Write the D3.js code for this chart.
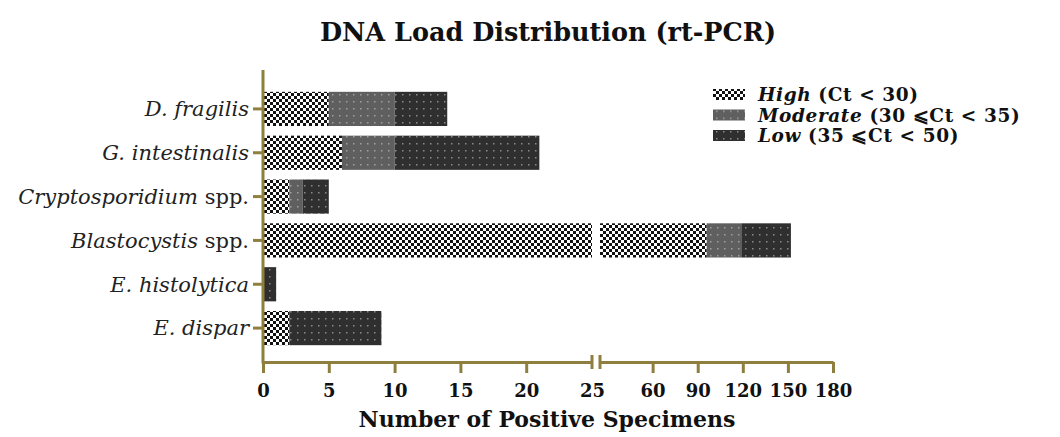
<body style="margin:0;background:#fff"></body>
<script src="https://d3js.org/d3.v7.min.js"></script>
<script>
    var width = 1060, height = 437;

    var categories = ["D. fragilis", "G. intestinalis", "Cryptosporidium spp.", "Blastocystis spp.", "E. histolytica", "E. dispar"];
    var high = [5, 6, 2, 96, 0, 2];
    var moderate = [5, 4, 1, 23, 0, 0];
    var low = [4, 11, 2, 33, 1, 7];
    var levels = ["High", "Moderate", "Low"];
    var levelNotes = ["(Ct < 30)", "(30 \u2A7DCt < 35)", "(35 \u2A7DCt < 50)"];
    var leftTicks = [0, 5, 10, 15, 20, 25];
    var rightTicks = [60, 90, 120, 150, 180];

    var axisColor = "#8f7f3e";
    var font = "'DejaVu Serif', serif";

    var svg = d3.select('body').append('svg').attr('width', width).attr('height', height)
        .style('font-family', font);

    // fill patterns
    var defs = svg.append('defs');
    var p1 = defs.append('pattern').attr('id', 'pHigh').attr('width', 6).attr('height', 6)
        .attr('patternUnits', 'userSpaceOnUse');
    p1.append('rect').attr('width', 6).attr('height', 6).attr('fill', '#fff');
    p1.append('rect').attr('width', 3).attr('height', 3).attr('fill', '#111');
    p1.append('rect').attr('x', 3).attr('y', 3).attr('width', 3).attr('height', 3).attr('fill', '#111');

    function dotted(id, bg, dot) {
        var p = defs.append('pattern').attr('id', id).attr('width', 7).attr('height', 7)
            .attr('patternUnits', 'userSpaceOnUse');
        p.append('rect').attr('width', 7).attr('height', 7).attr('fill', bg);
        p.append('rect').attr('x', 3).attr('y', 3).attr('width', 1.5).attr('height', 1.5).attr('fill', dot);
    }
    dotted('pModerate', '#5f5f5f', '#a0a0a0');
    dotted('pLow', '#2f2f2f', '#8a8a8a');
    var fills = ["url(#pHigh)", "url(#pModerate)", "url(#pLow)"];

    // broken x axis: two linear pieces
    var xL = d3.scaleLinear().domain([0, 25]).range([263, 592]);
    var xR = d3.scaleLinear().domain([25, 180]).range([600, 833]);
    var y = d3.scaleBand().domain(categories).range([87, 350]).paddingInner(0.22).paddingOuter(0.11);

    var series = [high, moderate, low];
    var segs = [];
    categories.forEach(function (c, i) {
        var start = 0;
        series.forEach(function (s, k) {
            var v = s[i];
            if (v > 0) {
                var a = start, b = start + v;
                if (a < 25) segs.push({ c: c, k: k, x0: xL(a), x1: xL(Math.min(b, 25)) });
                if (b > 25) segs.push({ c: c, k: k, x0: xR(Math.max(a, 25)), x1: xR(b) });
            }
            start += v;
        });
    });

    svg.append('g').selectAll('rect').data(segs).join('rect')
        .attr('x', function (d) { return d.x0; })
        .attr('width', function (d) { return d.x1 - d.x0; })
        .attr('y', function (d) { return y(d.c); })
        .attr('height', y.bandwidth())
        .attr('fill', function (d) { return fills[d.k]; });

    // x axes
    var axY = 362;
    var gl = svg.append('g').attr('transform', 'translate(0,' + axY + ')')
        .call(d3.axisBottom(xL).tickValues(leftTicks).tickSize(11).tickSizeOuter(0));
    var gr = svg.append('g').attr('transform', 'translate(0,' + axY + ')')
        .call(d3.axisBottom(xR).tickValues(rightTicks).tickSize(11).tickSizeOuter(0));
    [gl, gr].forEach(function (g) {
        g.select('.domain').attr('stroke', axisColor).attr('stroke-width', 3);
        g.selectAll('.tick line').attr('stroke', axisColor).attr('stroke-width', 3);
        g.selectAll('.tick text').attr('fill', '#111').attr('font-size', 18).attr('font-weight', 'bold')
            .attr('font-family', font).attr('y', 22);
    });
    // break marks
    svg.append('g').selectAll('line').data([xL(25), xR(25)]).join('line')
        .attr('x1', function (d) { return d; }).attr('x2', function (d) { return d; })
        .attr('y1', axY - 7).attr('y2', axY + 7)
        .attr('stroke', axisColor).attr('stroke-width', 3);
    gl.selectAll('.tick').filter(function (d) { return d === 25; }).select('line').remove();

    // y axis
    var ga = svg.append('g').attr('transform', 'translate(263,0)')
        .call(d3.axisLeft(y).tickSize(10).tickSizeOuter(0).tickFormat(''));
    ga.select('.domain').attr('d', 'M0,70V' + (axY + 1.5)).attr('stroke', axisColor).attr('stroke-width', 3);
    ga.selectAll('.tick line').attr('stroke', axisColor).attr('stroke-width', 3);

    // category labels, genus italic, "spp." upright
    svg.append('g').selectAll('text').data(categories).join('text')
        .attr('x', 249)
        .attr('y', function (d) { return y(d) + y.bandwidth() / 2; })
        .attr('dy', '0.35em').attr('text-anchor', 'end').attr('font-size', 21).attr('fill', '#222')
        .each(function (d) {
            var t = d3.select(this);
            var m = d.match(/^(.*?)( spp\.)?$/);
            t.append('tspan').attr('font-style', 'italic').text(m[1]);
            if (m[2]) t.append('tspan').text(m[2]);
        });

    // title and axis title
    svg.append('text').attr('x', 548).attr('y', 41).attr('text-anchor', 'middle')
        .attr('font-size', 25.5).attr('font-weight', 'bold').attr('fill', '#111')
        .text('DNA Load Distribution (rt-PCR)');
    svg.append('text').attr('x', 547).attr('y', 427).attr('text-anchor', 'middle')
        .attr('font-size', 22).attr('font-weight', 'bold').attr('fill', '#111')
        .text('Number of Positive Specimens');

    // legend
    var lg = svg.append('g').selectAll('g').data(levels).join('g')
        .attr('transform', function (d, i) { return 'translate(713,' + (94 + i * 20.5) + ')'; });
    lg.append('rect').attr('x', 0).attr('y', -5).attr('width', 32).attr('height', 11)
        .attr('fill', function (d, i) { return fills[i]; });
    var lt = lg.append('text').attr('x', 45).attr('y', 1).attr('dy', '0.35em')
        .attr('font-size', 18.5).attr('font-weight', 'bold').attr('fill', '#111')
        .attr('letter-spacing', 0.6);
    lt.append('tspan').attr('font-style', 'italic').text(function (d) { return d; });
    lt.append('tspan').text(function (d, i) { return ' ' + levelNotes[i]; });
</script>
